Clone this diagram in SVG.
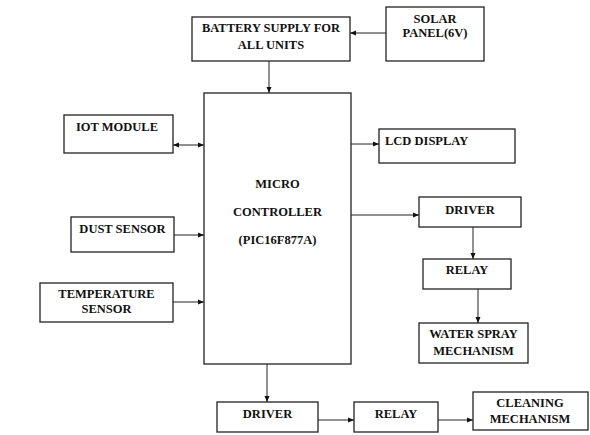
<svg xmlns="http://www.w3.org/2000/svg" width="590" height="435" viewBox="0 0 590 435">
<style>
.box{fill:#fff;stroke:#222;stroke-width:1.3}
.t{font-family:"Liberation Serif","Times New Roman",serif;font-weight:bold;font-size:12.5px;fill:#111;text-anchor:middle}
.l{text-anchor:start}
.c{fill:none;stroke:#222;stroke-width:1}
</style>
<defs>
<marker id="ah" markerWidth="6" markerHeight="6" refX="6" refY="3" orient="auto" markerUnits="userSpaceOnUse">
<path d="M0,0.5 L6,3 L0,5.5 Z" fill="#111"/>
</marker>
<marker id="as" markerWidth="6" markerHeight="6" refX="0" refY="3" orient="auto" markerUnits="userSpaceOnUse">
<path d="M6,0.5 L0,3 L6,5.5 Z" fill="#111"/>
</marker>
</defs>
<rect width="590" height="435" fill="#fff"/>
<g id="connectors">
<line class="c" x1="386" y1="33" x2="350" y2="33" marker-end="url(#ah)"/>
<line class="c" x1="269" y1="61" x2="269" y2="93" marker-end="url(#ah)"/>
<line class="c" x1="173" y1="145" x2="204" y2="145" marker-start="url(#as)" marker-end="url(#ah)"/>
<line class="c" x1="174" y1="235" x2="204" y2="235" marker-end="url(#ah)"/>
<line class="c" x1="173" y1="302" x2="204" y2="302" marker-end="url(#ah)"/>
<line class="c" x1="351" y1="144" x2="379" y2="144" marker-end="url(#ah)"/>
<line class="c" x1="351" y1="215" x2="419" y2="215" marker-end="url(#ah)"/>
<line class="c" x1="473" y1="227" x2="473" y2="259" marker-end="url(#ah)"/>
<line class="c" x1="478" y1="289" x2="478" y2="323" marker-end="url(#ah)"/>
<line class="c" x1="267" y1="364" x2="267" y2="402" marker-end="url(#ah)"/>
<line class="c" x1="318" y1="420" x2="354" y2="420" marker-end="url(#ah)"/>
<line class="c" x1="438" y1="420" x2="473" y2="420" marker-end="url(#ah)"/>
</g>
<g id="battery">
<rect class="box" x="192" y="17" width="158" height="44"/>
<text class="t" x="271" y="32">BATTERY SUPPLY FOR</text>
<text class="t" x="271" y="49">ALL UNITS</text>
</g>
<g id="solar">
<rect class="box" x="386" y="7" width="98" height="54"/>
<text class="t" x="435" y="23">SOLAR</text>
<text class="t" x="435" y="37">PANEL(6V)</text>
</g>
<g id="microcontroller">
<rect class="box" x="204" y="93" width="147" height="271"/>
<text class="t" x="277.5" y="188">MICRO</text>
<text class="t" x="277.5" y="216">CONTROLLER</text>
<text class="t" x="277.5" y="244">(PIC16F877A)</text>
</g>
<g id="iot">
<rect class="box" x="64" y="115" width="109" height="38"/>
<text class="t" x="117" y="131">IOT MODULE</text>
</g>
<g id="dust">
<rect class="box" x="71" y="217" width="103" height="35"/>
<text class="t" x="122.5" y="233">DUST SENSOR</text>
</g>
<g id="temperature">
<rect class="box" x="40" y="283" width="133" height="39"/>
<text class="t" x="106.5" y="298">TEMPERATURE</text>
<text class="t" x="106.5" y="313">SENSOR</text>
</g>
<g id="lcd">
<rect class="box" x="379" y="129" width="136" height="34"/>
<text class="t l" x="385" y="145">LCD DISPLAY</text>
</g>
<g id="driver1">
<rect class="box" x="419" y="197" width="102" height="30"/>
<text class="t" x="470" y="214">DRIVER</text>
</g>
<g id="relay1">
<rect class="box" x="423" y="259" width="88" height="30"/>
<text class="t" x="467" y="274">RELAY</text>
</g>
<g id="waterspray">
<rect class="box" x="419" y="323" width="109" height="40"/>
<text class="t" x="473.5" y="338">WATER SPRAY</text>
<text class="t" x="473.5" y="355">MECHANISM</text>
</g>
<g id="driver2">
<rect class="box" x="217" y="402" width="101" height="30"/>
<text class="t" x="267.5" y="418">DRIVER</text>
</g>
<g id="relay2">
<rect class="box" x="354" y="402" width="84" height="30"/>
<text class="t" x="396" y="418">RELAY</text>
</g>
<g id="cleaning">
<rect class="box" x="473" y="392" width="115" height="38"/>
<text class="t" x="530" y="407">CLEANING</text>
<text class="t" x="530" y="423">MECHANISM</text>
</g>
</svg>
